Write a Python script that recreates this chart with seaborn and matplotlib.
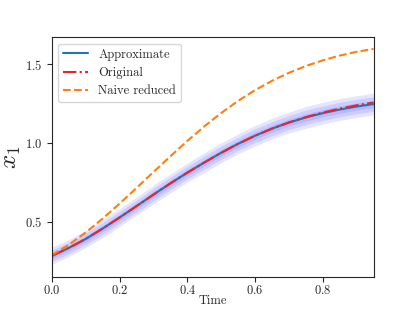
import numpy as np
import pandas as pd
import matplotlib
matplotlib.use("Agg")
import matplotlib.pyplot as plt
import seaborn as sns

# values
time = [0.0, 0.05, 0.1, 0.15, 0.2, 0.25, 0.3, 0.35, 0.4, 0.45,
        0.5, 0.55, 0.6, 0.65, 0.7, 0.75, 0.8, 0.85, 0.9, 0.95]
approximate = [0.285, 0.335, 0.392, 0.458, 0.528, 0.600, 0.673, 0.744, 0.812, 0.876,
               0.938, 0.995, 1.046, 1.091, 1.130, 1.162, 1.189, 1.212, 1.231, 1.247]
original = [0.285, 0.335, 0.392, 0.458, 0.528, 0.600, 0.673, 0.744, 0.812, 0.876,
            0.938, 0.995, 1.046, 1.091, 1.130, 1.164, 1.193, 1.218, 1.239, 1.257]
naive = [0.29, 0.355, 0.433, 0.521, 0.616, 0.715, 0.816, 0.916, 1.013, 1.105,
         1.190, 1.267, 1.335, 1.394, 1.445, 1.488, 1.524, 1.554, 1.578, 1.597]
sigma = [0.018, 0.018, 0.018, 0.019, 0.019, 0.019, 0.02, 0.02, 0.02, 0.021,
         0.021, 0.021, 0.022, 0.022, 0.022, 0.023, 0.023, 0.023, 0.023, 0.023]

df = pd.DataFrame({"time": time, "approx": approximate, "orig": original,
                   "naive": naive, "sigma": sigma})

sns.set_theme(style="ticks", rc={"xtick.major.size": 3.5, "ytick.major.size": 3.5,
                                 "xtick.major.width": 0.8, "ytick.major.width": 0.8,
                                 "axes.linewidth": 0.8})
plt.rcParams["font.family"] = "serif"
plt.rcParams["font.serif"] = ["cmr10"]
plt.rcParams["mathtext.fontset"] = "cm"
plt.rcParams["axes.formatter.use_mathtext"] = True
plt.rcParams["axes.unicode_minus"] = False

fig, ax = plt.subplots(figsize=(4.15, 3.11), dpi=100)
fig.subplots_adjust(left=0.125, right=0.9, bottom=0.11, top=0.88)

# uncertainty bands (1, 2, 3 sigma)
for k in [3, 2, 1]:
    ax.fill_between(df["time"], df["approx"] - k * df["sigma"],
                    df["approx"] + k * df["sigma"], color="blue", alpha=0.1,
                    linewidth=0)

sns.lineplot(data=df, x="time", y="approx", ax=ax, color="tab:blue",
             label="Approximate", linewidth=1.5)
sns.lineplot(data=df, x="time", y="orig", ax=ax, color="#e8262a",
             linestyle="-.", label="Original", linewidth=1.5)
sns.lineplot(data=df, x="time", y="naive", ax=ax, color="#ff7f0e",
             linestyle="--", label="Naive reduced", linewidth=1.5)

ax.set_xlim(0, 0.95)
ax.set_ylim(0.152, 1.67)
ax.set_yticks([0.5, 1.0, 1.5])
ax.set_xticks([0.0, 0.2, 0.4, 0.6, 0.8])
ax.tick_params(labelsize=9)
ax.tick_params(axis="x", pad=2)
ax.set_xlabel("Time", fontsize=9)
ax.set_ylabel("$x_1$", fontsize=18)
ax.xaxis.set_label_coords(0.5, -0.075)
ax.yaxis.set_label_coords(-0.09, 0.5)
ax.legend(loc="upper left", fontsize=9)

fig.savefig("out.png", dpi=100)
